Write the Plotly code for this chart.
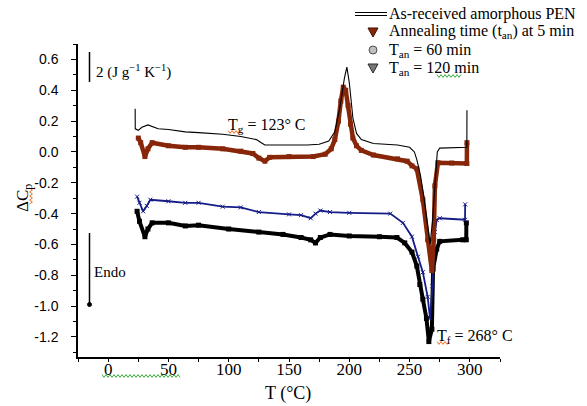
import plotly.graph_objects as go

# ---- DSC traces: temperature (degC) vs. normalised heat-capacity step (J g^-1 K^-1, offset) ----
t_asrec = [22.4, 22.5, 25, 28, 33, 41.5, 50, 64, 75, 95, 110, 118, 123, 127, 130, 150, 165, 175,
           183, 188, 192, 196, 198, 200, 203, 206, 210, 220, 240, 250, 254, 256, 259, 262, 265,
           267, 269, 271, 273, 275, 290, 297.5, 297.6]
cp_asrec = [0.28, 0.15, 0.14, 0.16, 0.175, 0.15, 0.145, 0.13, 0.125, 0.115, 0.10, 0.09, 0.08, 0.06,
            0.045, 0.045, 0.045, 0.05, 0.07, 0.13, 0.28, 0.48, 0.55, 0.45, 0.22, 0.12, 0.08, 0.055,
            0.045, 0.03, 0.0, -0.05, -0.15, -0.3, -0.5, -0.6, -0.45, -0.2, 0.0, 0.025, 0.03, 0.03, 0.27]

t_5min = [25, 27, 30.5, 33, 36.5, 50, 64, 75, 95, 110, 120, 125, 130, 134, 150, 170, 180, 185, 188,
          191, 193, 195, 197, 199, 201, 203, 206, 210, 220, 240, 248, 252, 256, 261, 265, 268.5,
          270, 271, 273.5, 285, 297.5, 297.6]
cp_5min = [0.09, 0.06, -0.03, 0.02, 0.06, 0.04, 0.03, 0.03, 0.02, 0.005, -0.01, -0.04, -0.06, -0.035,
           -0.03, -0.03, -0.015, 0.02, 0.08, 0.2, 0.33, 0.42, 0.40, 0.30, 0.18, 0.09, 0.04, 0.01,
           -0.02, -0.045, -0.06, -0.09, -0.11, -0.31, -0.57, -0.77, -0.57, -0.22, -0.07, -0.072,
           -0.075, 0.06]

t_60min = [24, 26, 29, 32, 35, 50, 64, 75, 95, 110, 125, 150, 160, 168, 172, 176, 184, 200, 234,
           244.5, 252, 257, 261, 265, 267, 269, 271, 272.5, 275, 296, 296.1]
cp_60min = [-0.29, -0.33, -0.385, -0.35, -0.31, -0.32, -0.33, -0.33, -0.355, -0.36, -0.39, -0.405,
            -0.41, -0.43, -0.40, -0.38, -0.39, -0.395, -0.40, -0.46, -0.55, -0.68, -0.78, -0.94,
            -1.08, -0.87, -0.52, -0.44, -0.43, -0.44, -0.34]

t_120min = [24, 26, 30.5, 33, 36.5, 50, 64, 75, 100, 125, 145, 160, 168, 172, 176, 184, 200, 225,
            239.5, 246, 252, 256, 258.5, 261, 264, 266, 268.5, 269.5, 272.5, 275, 294, 297,
            297.1]
cp_120min = [-0.385, -0.45, -0.55, -0.50, -0.46, -0.46, -0.48, -0.475, -0.50, -0.52, -0.535, -0.555,
             -0.57, -0.59, -0.555, -0.535, -0.545, -0.55, -0.555, -0.59, -0.65, -0.74, -0.86,
             -0.955, -1.08, -1.23, -1.15, -0.76, -0.63, -0.58, -0.57, -0.57, -0.46]

# ---- axes ----
x_ticks = [0, 50, 100, 150, 200, 250, 300]
x_ticktext = ["0", "50", "100", "150", "200", "250", "300"]
y_ticks = [0.6, 0.4, 0.2, 0.0, -0.2, -0.4, -0.6, -0.8, -1.0, -1.2]
y_ticktext = ["0.6", "0.4", "0.2", "0.0", "-0.2", "-0.4", "-0.6", "-0.8", "-1.0", "-1.2"]

legend_labels = ["As-received amorphous PEN",
                 "Annealing time (t<sub>an</sub>) at 5 min",
                 "T<sub>an</sub> = 60 min",
                 "T<sub>an</sub> = 120 min"]

BROWN = "rgb(135,38,8)"
NAVY = "rgb(20,28,135)"
SERIF = "Liberation Serif"

# plot-area geometry (pixels) used to place paper-referenced decorations
W, H = 587, 406
L, R, T, B = 78, 87, 44, 49
PW, PH = W - L - R, H - T - B


def px(x):
    return (x - L) / PW


def py(y):
    return (H - B - y) / PH


fig = go.Figure()

fig.add_trace(go.Scatter(x=t_120min, y=cp_120min, mode="lines+markers",
                         line=dict(color="black", width=4),
                         marker=dict(symbol="square", size=5, color="black"),
                         showlegend=False))
fig.add_trace(go.Scatter(x=t_60min, y=cp_60min, mode="lines+markers",
                         line=dict(color=NAVY, width=1.8),
                         marker=dict(symbol="x-thin", size=4, line=dict(color=NAVY, width=1)),
                         showlegend=False))
fig.add_trace(go.Scatter(x=t_5min, y=cp_5min, mode="lines+markers",
                         line=dict(color=BROWN, width=4.5),
                         marker=dict(symbol="square", size=5, color=BROWN),
                         showlegend=False))
fig.add_trace(go.Scatter(x=t_asrec, y=cp_asrec, mode="lines",
                         line=dict(color="black", width=1.1),
                         showlegend=False))

shapes = []
annotations = []


def wavy(x0, x1, y, color, amp=1.4, step=2.0, vertical=False):
    pts = []
    n = int(abs(x1 - x0) / step)
    for i in range(n + 1):
        a = x0 + i * step
        b = y + (amp if i % 2 else -amp)
        pts.append((b, a) if vertical else (a, b))
    path = "M " + " L ".join(f"{px(p[0]):.5f},{py(p[1]):.5f}" for p in pts)
    shapes.append(dict(type="path", xref="paper", yref="paper", path=path,
                       line=dict(color=color, width=1)))


# legend block
rows_y = [14, 32, 50, 68]
shapes.append(dict(type="line", xref="paper", yref="paper", x0=px(355), x1=px(387),
                   y0=py(rows_y[0] - 1.5), y1=py(rows_y[0] - 1.5), line=dict(color="black", width=1)))
shapes.append(dict(type="line", xref="paper", yref="paper", x0=px(355), x1=px(387),
                   y0=py(rows_y[0] + 1.5), y1=py(rows_y[0] + 1.5), line=dict(color="black", width=1)))


def tri_down(cx, cy, fill, edge):
    path = (f"M {px(cx-5):.5f},{py(cy-4):.5f} L {px(cx+5):.5f},{py(cy-4):.5f} "
            f"L {px(cx):.5f},{py(cy+5):.5f} Z")
    shapes.append(dict(type="path", xref="paper", yref="paper", path=path,
                       fillcolor=fill, line=dict(color=edge, width=1)))


tri_down(373, rows_y[1], BROWN, "rgb(60,20,5)")
shapes.append(dict(type="circle", xref="paper", yref="paper", x0=px(369), x1=px(377),
                   y0=py(rows_y[2] - 4), y1=py(rows_y[2] + 4),
                   fillcolor="rgb(190,190,190)", line=dict(color="rgb(80,80,80)", width=1)))
tri_down(373, rows_y[3], "rgb(120,120,120)", "rgb(40,40,40)")

for lab, yy in zip(legend_labels, rows_y):
    annotations.append(dict(xref="paper", yref="paper", x=px(387), y=py(yy), text=lab,
                            showarrow=False, xanchor="left", yanchor="middle",
                            font=dict(family=SERIF, size=16, color="black")))

# scale bar
shapes.append(dict(type="line", xref="paper", yref="paper", x0=px(89.5), x1=px(89.5),
                   y0=py(52), y1=py(82), line=dict(color="black", width=1.5)))
annotations.append(dict(xref="paper", yref="paper", x=px(94), y=py(71),
                        text="2 (J g<sup>\u22121</sup> K<sup>\u22121</sup>)", showarrow=False,
                        xanchor="left", yanchor="middle",
                        font=dict(family=SERIF, size=15, color="black")))

# endothermic direction arrow
shapes.append(dict(type="line", xref="paper", yref="paper", x0=px(89.5), x1=px(89.5),
                   y0=py(233), y1=py(304), line=dict(color="black", width=1.5)))
shapes.append(dict(type="circle", xref="paper", yref="paper", x0=px(87.5), x1=px(91.5),
                   y0=py(302.5), y1=py(306.5), fillcolor="black", line=dict(color="black", width=1)))
annotations.append(dict(xref="paper", yref="paper", x=px(92), y=py(272), text="Endo",
                        showarrow=False, xanchor="left", yanchor="middle",
                        font=dict(family=SERIF, size=15, color="black")))

# transition labels
annotations.append(dict(xref="paper", yref="paper", x=px(226), y=py(125),
                        text="T<sub>g</sub> = 123° C", showarrow=False,
                        xanchor="left", yanchor="middle",
                        font=dict(family=SERIF, size=16, color="black")))
annotations.append(dict(xref="paper", yref="paper", x=px(435), y=py(336),
                        text="T<sub>f</sub> = 268° C", showarrow=False,
                        xanchor="left", yanchor="middle",
                        font=dict(family=SERIF, size=16, color="black")))

# axis titles
annotations.append(dict(xref="paper", yref="paper", x=px(288), y=py(393), text="T (°C)",
                        showarrow=False, xanchor="center", yanchor="middle",
                        font=dict(family=SERIF, size=18, color="black")))
annotations.append(dict(xref="paper", yref="paper", x=px(24), y=py(198), text="ΔC<sub>p</sub>",
                        showarrow=False, xanchor="center", yanchor="middle", textangle=-90,
                        font=dict(family=SERIF, size=17, color="black")))

# proofing squiggles under some of the labels
wavy(102, 180, 376, "rgb(60,170,60)")
wavy(437, 461, 76, "rgb(60,170,60)")
wavy(228, 242, 132, "rgb(240,110,40)")
wavy(437, 449, 343, "rgb(240,110,40)")
wavy(188, 204, 31, "rgb(240,110,40)", vertical=True)

fig.update_layout(
    width=W, height=H,
    margin=dict(l=L, r=R, t=T, b=B),
    paper_bgcolor="white", plot_bgcolor="white",
    shapes=shapes, annotations=annotations,
    showlegend=False,
    xaxis=dict(range=[-25, 325], tickvals=x_ticks, ticktext=x_ticktext,
               showgrid=False, zeroline=False, showline=True, linecolor="black", linewidth=1.5,
               ticks="outside", ticklen=3, tickcolor="black", tickwidth=1,
               minor=dict(tick0=-25, dtick=25, ticks="outside", ticklen=3, tickcolor="black"),
               ticklabelstandoff=-7,
               tickfont=dict(family=SERIF, size=17, color="black")),
    yaxis=dict(range=[-1.33, 0.70], tickvals=y_ticks, ticktext=y_ticktext,
               showgrid=False, zeroline=False, showline=True, linecolor="black", linewidth=1.5,
               ticks="outside", ticklen=5, tickcolor="black", tickwidth=1,
               minor=dict(tick0=0, dtick=0.1, ticks="outside", ticklen=3, tickcolor="black"),
               ticklabelstandoff=10,
               tickfont=dict(family="Liberation Sans", size=14, color="black")),
)

fig.write_html("out.html")
